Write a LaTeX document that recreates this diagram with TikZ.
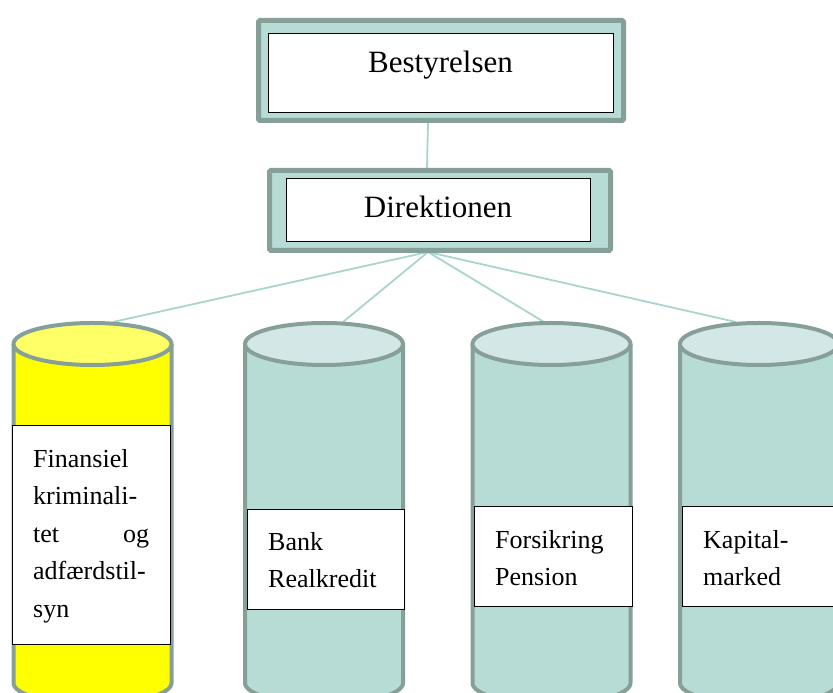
\documentclass[tikz,border=0pt]{standalone}
\usepackage{fontspec}
\setmainfont{Liberation Serif}
\usetikzlibrary{calc}
\definecolor{frame}{HTML}{879F99}
\definecolor{sea}{HTML}{B6DCD5}
\definecolor{seatop}{HTML}{D3E8E6}
\definecolor{gul}{HTML}{FFFF00}
\definecolor{gultop}{HTML}{FFFF66}
\definecolor{wirecol}{HTML}{A8D5CD}
\tikzstyle{outerbox}=[rectangle,draw=frame,fill=sea,line width=5pt,rounded corners=1.5pt,inner sep=0pt]
\tikzstyle{innerbox}=[rectangle,draw=black,fill=white,line width=0.9pt,inner sep=0pt]
\tikzstyle{title}=[font=\fontsize{31}{37}\selectfont,inner sep=0pt,anchor=base]
\tikzstyle{cyltext}=[font=\fontsize{26}{37.5}\selectfont,inner sep=0pt,anchor=north west,align=left]
\tikzstyle{cylline}=[draw=frame,line width=4pt]
\tikzstyle{branch}=[draw=wirecol,line width=1.8pt]

\begin{document}
\begin{tikzpicture}[x=1pt,y=1pt]
    \useasboundingbox (0,0) rectangle (833,693);

    % connectors
    \coordinate (boardfoot) at (428,570);
    \coordinate (dirhead) at (427,525);
    \coordinate (dirfoot) at (428,441);
    \path[branch] (boardfoot) -- (dirhead);

    \foreach \tx/\name in {113/fintop, 343/banktop, 544/forstop, 736/kaptop}
        \coordinate (\name) at (\tx,371);
    \foreach \dest in {fintop, banktop, forstop, kaptop}
        \path[branch] (dirfoot) -- (\dest);

    % top boxes
    \node[outerbox, minimum width=365, minimum height=100] (board) at (441,622.5) {};
    \node[innerbox, minimum width=345, minimum height=79] (boardin) at (440.5,620.5) {};
    \node[title] (boardtxt) at (440.5,620) {Bestyrelsen};

    \node[outerbox, minimum width=341, minimum height=80] (dir) at (440,482.5) {};
    \node[innerbox, minimum width=304, minimum height=63] (dirin) at (438,483.5) {};
    \node[title] (dirtxt) at (438,475) {Direktionen};

    % cylinders
    \foreach \x/\body/\lid in {92.5/gul/gultop, 324/sea/seatop, 551.5/sea/seatop, 759/sea/seatop}
    {
        \path[fill=\body] (\x-79,349) -- (\x-79,10) arc (180:360:79 and 21) -- (\x+79,349) -- cycle;
        \draw[cylline] (\x-79,349) -- (\x-79,10) arc (180:360:79 and 21) -- (\x+79,349);
        \draw[cylline, fill=\lid] (\x,349) ellipse (79 and 21);
    }

    % labels on the cylinders
    \foreach \x/\y/\w/\h/\name in {91/158.5/158/219/finbox, 325.5/134/157/100/bankbox, 553/137/158/100/forsbox, 761/137/158/100/kapbox}
        \node[innerbox, minimum width=\w, minimum height=\h] (\name) at (\x,\y) {};

    \node[cyltext, text width=116] (fintxt) at (33,244) {Finansiel\\kriminali-\\tet\hfill og\\adfærdstil-\\syn};
    \node[cyltext] (banktxt) at (268,161) {Bank\\Realkredit};
    \node[cyltext] (forstxt) at (495,163) {Forsikring\\Pension};
    \node[cyltext] (kaptxt) at (703,163) {Kapital-\\marked};

\end{tikzpicture}
\end{document}
